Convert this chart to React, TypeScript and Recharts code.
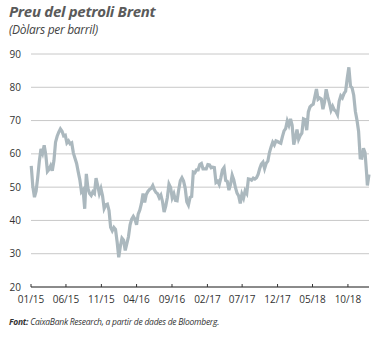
import React from 'react';
import { LineChart, Line, XAxis, YAxis, CartesianGrid } from 'recharts';

// Brent, USD per barrel, weekly closes (Fridays)
const start2015 = '2015-01-02';
const prices2015 = [
  56.4, 50.1, 47.0, 48.8, 52.9, 57.8, 61.5, 60.2, 62.6, 59.7, 54.7, 55.3, 56.4, 54.9, 57.9, 63.5, 65.3, 66.5,
  67.5, 66.8, 65.4, 65.6, 63.3, 63.9, 63.0, 63.3, 60.3, 58.7, 57.1, 54.6, 52.2, 48.6, 49.2, 43.5, 54.0, 49.6,
  48.1, 47.5, 48.6, 48.1, 52.7, 50.5, 48.1, 49.6, 47.4, 43.6, 44.7, 44.9, 43.0, 37.9, 36.9, 37.9,
];
const prices2016 = [
  37.3, 33.6, 28.9, 32.2, 34.7, 34.1, 31.0, 33.0, 35.1, 38.7, 40.4, 41.2, 40.4, 38.7, 41.9, 43.1, 45.1, 48.1,
  45.4, 47.8, 48.7, 49.3, 49.6, 50.5, 49.2, 48.4, 48.0, 46.8, 47.6, 45.7, 42.5, 44.3, 46.9, 50.9, 49.9, 46.8,
  48.0, 46.0, 45.9, 49.2, 51.9, 52.8, 51.8, 49.7, 45.6, 44.6, 46.9, 47.2, 54.5, 54.3, 55.2, 55.2, 56.8,
];
const prices2017 = [
  57.1, 55.5, 55.5, 55.5, 56.8, 56.7, 55.8, 56.0, 55.9, 51.4, 51.8, 50.8, 52.8, 55.2, 55.9, 52.0, 51.7, 49.1,
  50.8, 53.6, 52.2, 49.9, 48.2, 47.4, 45.1, 47.9, 46.7, 48.9, 48.1, 52.5, 52.4, 52.1, 52.7, 52.4, 52.8, 53.8,
  55.6, 56.9, 57.5, 55.6, 57.2, 57.8, 60.4, 62.1, 63.5, 62.7, 63.9, 63.7, 63.4, 63.2, 65.2, 66.9,
];
const prices2018 = [
  67.6, 69.9, 68.6, 70.5, 68.6, 62.8, 64.8, 67.3, 64.4, 65.5, 66.2, 70.5, 70.3, 67.1, 72.6, 74.1, 74.6, 74.9,
  77.1, 79.5, 76.4, 76.8, 76.5, 73.4, 75.6, 79.4, 77.1, 75.3, 73.1, 74.3, 73.2, 72.8, 71.8, 75.8, 77.4, 76.8,
  78.1, 78.8, 82.7, 86.0, 80.4, 79.8, 77.6, 72.8, 70.2, 66.8, 58.8, 58.7, 61.7, 60.3, 53.8,
];
const tailDates = ['2018-12-24', '2018-12-31'];
const tailPrices = [50.5, 53.8];

const tickDates = [
  '2015-01-01', '2015-06-01', '2015-11-01', '2016-04-01', '2016-09-01',
  '2017-02-01', '2017-07-01', '2017-12-01', '2018-05-01', '2018-10-01',
];
const yTicks = [20, 30, 40, 50, 60, 70, 80, 90];

const DAY = 86400000;
const toTs = (s: string) => Date.parse(s + 'T00:00:00Z');

const weekly = [...prices2015, ...prices2016, ...prices2017, ...prices2018];
const data = [
  ...weekly.map((v, i) => ({ t: toTs(start2015) + i * 7 * DAY, v })),
  ...tailDates.map((d, i) => ({ t: toTs(d), v: tailPrices[i] })),
];

const fmt = (t: number) => {
  const d = new Date(t);
  const m = String(d.getUTCMonth() + 1).padStart(2, '0');
  return `${m}/${String(d.getUTCFullYear()).slice(2)}`;
};

const font = '"Open Sans", sans-serif';

const XTick = (props: any) => {
  const { x, y, payload } = props;
  return (
    <g>
      <line x1={x} x2={x} y1={y - 3} y2={y} stroke="#333" strokeWidth={1} />
      <text x={x} y={y + 16} textAnchor="middle" fontSize={10} fill="#333" fontFamily={font}>
        {fmt(payload.value)}
      </text>
    </g>
  );
};

export default function App() {
  return (
    <div style={{ position: 'absolute', left: 0, top: 0, width: 377, height: 338, background: '#fff', fontFamily: font }}>
      <div style={{ position: 'absolute', left: 9, top: 1, fontSize: 15, fontWeight: 700, fontStyle: 'italic', color: '#5a5a5a', letterSpacing: -0.3, whiteSpace: 'nowrap' }}>
        Preu del petroli Brent
      </div>
      <div style={{ position: 'absolute', left: 9, top: 21, fontSize: 12, fontStyle: 'italic', color: '#444', letterSpacing: -0.3, whiteSpace: 'nowrap' }}>
        (Dòlars per barril)
      </div>
      <div style={{ position: 'absolute', left: 0, top: 0 }}>
        <LineChart width={377} height={338} data={data} margin={{ top: 54, right: 8, left: 0, bottom: 31 }}>
          <CartesianGrid horizontal vertical={false} stroke="#c8c8c8" strokeWidth={1} />
          <XAxis
            dataKey="t"
            type="number"
            scale="time"
            domain={[toTs('2015-01-01'), toTs('2018-12-31')]}
            ticks={tickDates.map(toTs)}
            tick={<XTick />}
            tickLine={false}
            tickSize={0}
            tickMargin={0}
            height={20}
            axisLine={{ stroke: '#333', strokeWidth: 1 }}
            interval={0}
          />
          <YAxis
            type="number"
            domain={[20, 90]}
            ticks={yTicks}
            width={31}
            tickLine={false}
            axisLine={false}
            tickSize={0}
            tickMargin={10}
            tick={{ fontSize: 10, fill: '#333', fontFamily: font }}
            interval={0}
          />
          <Line
            type="linear"
            dataKey="v"
            stroke="#abb8be"
            strokeWidth={3.2}
            dot={false}
            isAnimationActive={false}
          />
        </LineChart>
      </div>
      <div style={{ position: 'absolute', left: 9, top: 316, fontSize: 8.5, fontStyle: 'italic', color: '#333', letterSpacing: -0.25, whiteSpace: 'nowrap' }}>
        <b>Font:</b> CaixaBank Research, a partir de dades de Bloomberg.
      </div>
    </div>
  );
}
